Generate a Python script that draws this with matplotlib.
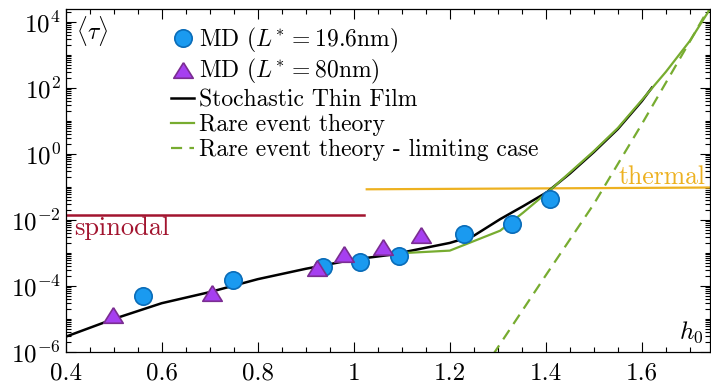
import numpy as np
import matplotlib
matplotlib.use('Agg')
import matplotlib.pyplot as plt
from matplotlib.ticker import FixedLocator, FixedFormatter, LogLocator, NullFormatter

plt.rcParams['font.family'] = 'serif'
plt.rcParams['font.serif'] = ['cmr10']
plt.rcParams['mathtext.fontset'] = 'cm'
plt.rcParams['axes.formatter.use_mathtext'] = True

# MD, L* = 19.6 nm
md20_h = [0.562, 0.748, 0.936, 1.013, 1.094, 1.230, 1.329, 1.409]
md20_tau = [4.9e-5, 1.5e-4, 3.7e-4, 5.2e-4, 7.9e-4, 3.7e-3, 7.4e-3, 4.2e-2]

# MD, L* = 80 nm
md80_h = [0.499, 0.704, 0.923, 0.980, 1.060, 1.140]
md80_tau = [1.3e-5, 6.3e-5, 3.4e-4, 9.3e-4, 1.5e-3, 3.5e-3]

# stochastic thin film
stf_h = [0.4, 0.5, 0.6, 0.7, 0.8, 0.9, 1.0, 1.076, 1.2, 1.25, 1.305, 1.353,
         1.402, 1.45, 1.5, 1.55, 1.6, 1.621]
stf_tau = [2.9e-6, 1.0e-5, 3.0e-5, 6.5e-5, 1.6e-4, 3.3e-4, 6.3e-4, 8.7e-4,
           2.0e-3, 3.3e-3, 1.05e-2, 2.6e-2, 6.8e-2, 0.25, 1.12, 5.6, 39.0, 100.0]

# rare event theory
ret_h = [1.1, 1.2, 1.305, 1.353, 1.415, 1.45, 1.5, 1.55, 1.6, 1.65, 1.7, 1.745]
ret_tau = [9.8e-4, 1.17e-3, 4.7e-3, 1.66e-2, 9.5e-2, 0.27, 1.2, 6.0, 42.0,
           300.0, 2600.0, 2.8e4]

# rare event theory, limiting case
lim_h = [1.29, 1.4, 1.5, 1.6, 1.7, 1.745]
lim_tau = [8.3e-7, 2.1e-4, 3.0e-2, 7.9, 2500.0, 3.5e4]

spin_h = [0.4, 1.021]
spin_tau = [1.42e-2, 1.42e-2]
therm_h = [1.027, 1.745]
therm_tau = [0.084, 0.095]

xticks = [0.4, 0.6, 0.8, 1.0, 1.2, 1.4, 1.6]
xticklabels = ['0.4', '0.6', '0.8', '1', '1.2', '1.4', '1.6']
yticks = [1e-6, 1e-4, 1e-2, 1e0, 1e2, 1e4]
yticklabels = [r'$10^{-6}$', r'$10^{-4}$', r'$10^{-2}$', r'$10^{0}$',
               r'$10^{2}$', r'$10^{4}$']

green = '#77ac30'
fig = plt.figure(figsize=(7.11, 3.85), dpi=100)
ax = fig.add_axes([0.0924, 0.0857, 0.9062, 0.8909])

ax.plot(spin_h, spin_tau, color='#a2142f', lw=1.8)
ax.plot(therm_h, therm_tau, color='#edb120', lw=1.6)
ax.plot(lim_h, lim_tau, color=green, lw=1.6, dashes=(5, 3.3),
        label='Rare event theory - limiting case')
ax.plot(stf_h, stf_tau, color='black', lw=1.8, label='Stochastic Thin Film')
ax.plot(ret_h, ret_tau, color=green, lw=1.6, label='Rare event theory')
ax.plot(md20_h, md20_tau, 'o', ms=12.5, mfc='#1a9af0', mec='#0a6cb8', mew=1.2,
        label=r'MD $(L^{\!*} = 19.6$nm$)$')
tri = [(0, 0.8), (-1, -0.8), (1, -0.8), (0, 0.8)]
ax.plot(md80_h, md80_tau, ls='none', marker=tri, ms=14, mfc='#a63ff0',
        mec='#7b2d92', mew=1.2, label=r'MD $(L^{\!*} = 80$nm$)$')

ax.set_yscale('log')
ax.set_xlim(0.4, 1.742)
ax.set_ylim(1e-6, 2.4e4)

ax.xaxis.set_major_locator(FixedLocator(xticks))
ax.xaxis.set_major_formatter(FixedFormatter(xticklabels))
ax.xaxis.set_minor_locator(FixedLocator(np.arange(0.45, 1.75, 0.05)))
ax.yaxis.set_major_locator(FixedLocator(yticks))
ax.yaxis.set_major_formatter(FixedFormatter(yticklabels))
ax.yaxis.set_minor_locator(LogLocator(base=10, subs=np.arange(1, 10), numticks=100))
ax.yaxis.set_minor_formatter(NullFormatter())
ax.tick_params(which='both', direction='in', top=True, right=True, labelsize=18, width=0.8)
ax.tick_params(which='major', length=7)
ax.tick_params(which='minor', length=3.6)
ax.tick_params(axis='x', pad=7.5)
for s in ax.spines.values():
    s.set_linewidth(0.9)

ax.text(0.418, 10**-2.46, 'spinodal', color='#a2142f', fontsize=19, va='baseline')
ax.text(1.733, 10**-0.93, 'thermal', color='#edb120', fontsize=18.5,
        ha='right', va='baseline')
ax.text(0.421, 10**3.72, r'$\langle\tau\rangle$', fontsize=17, va='center')
ax.text(1.728, 10**-5.59, r'$h_0$', fontsize=18, ha='right', va='baseline')

h, l = ax.get_legend_handles_labels()
order = [3, 4, 1, 2, 0]
ax.legend([h[i] for i in order], [l[i] for i in order], loc='upper left',
          bbox_to_anchor=(0.163, 0.952), frameon=False, fontsize=17,
          handlelength=1.0, handletextpad=0.2, labelspacing=0.12,
          borderpad=0, borderaxespad=0)

fig.savefig('out.png', dpi=100)
